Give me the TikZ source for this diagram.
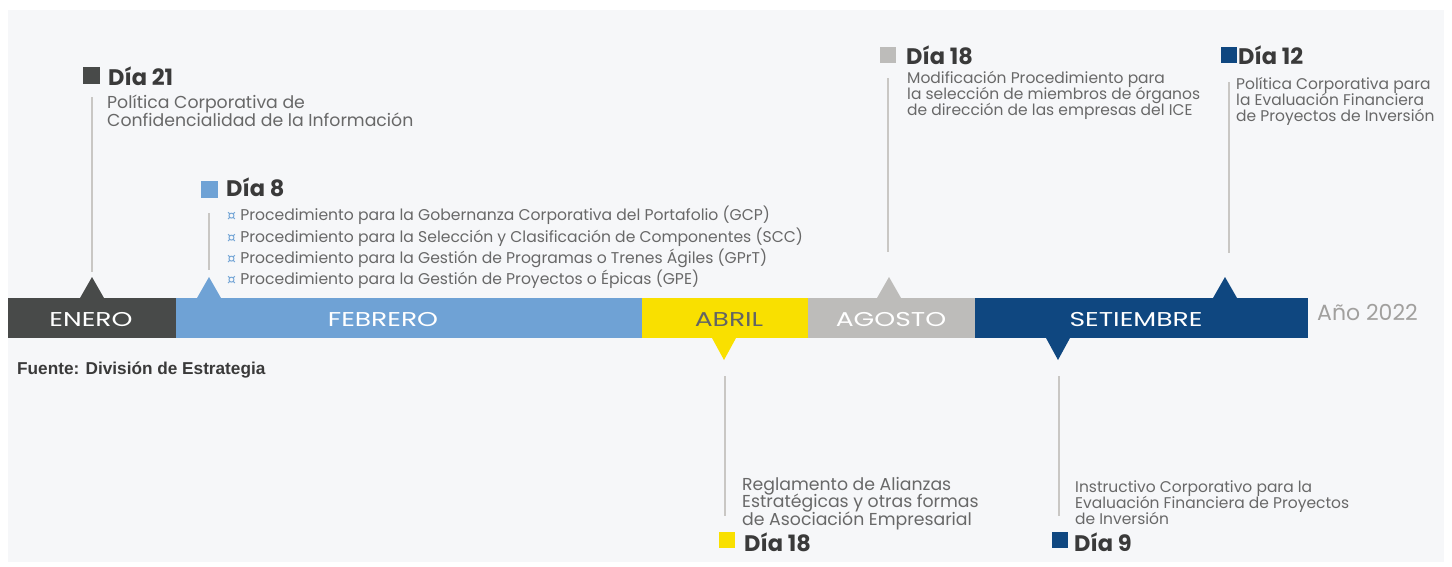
\documentclass[tikz,border=0pt]{standalone}
\usepackage{fontspec}
\setmainfont{Poppins}
\newfontfamily\widef[FakeStretch=1.33]{Poppins}
\newfontfamily\arialf{Liberation Sans}
\newfontfamily\dejaf{DejaVu Sans}
\definecolor{bgc}{HTML}{F6F7F9}
\definecolor{c1}{HTML}{484A49}
\definecolor{c2}{HTML}{6FA2D5}
\definecolor{c3}{HTML}{F9E000}
\definecolor{c4}{HTML}{BDBCBA}
\definecolor{c5}{HTML}{0F4780}
\definecolor{linec}{HTML}{C9C7C4}
\definecolor{txt}{HTML}{686868}
\definecolor{head}{HTML}{3A3A3A}
\newcommand{\bulsym}{{\dejaf\color{c2}\fontsize{14}{14}\selectfont ¤}}
\tikzset{
  mlab/.style={font=\widef\fontsize{20}{20}\selectfont, text=white},
  vline/.style={draw=linec, line width=1.6pt},
  head/.style={anchor=base west, inner sep=0pt, font=\fontsize{22.5}{22.5}\selectfont\bfseries, text=head},
  desc/.style={anchor=base west, inner sep=0pt, font=\fontsize{17.3}{17.3}\selectfont, text=txt},
  descs/.style={anchor=base west, inner sep=0pt, font=\fontsize{15.5}{15.5}\selectfont, text=txt},
  bul/.style={anchor=base west, inner sep=0pt, font=\fontsize{15.6}{15.6}\selectfont, text=txt},
  sq/.style={inner sep=0pt, minimum size=16pt}
}
\begin{document}
\begin{tikzpicture}[x=1pt,y=-1pt]
\useasboundingbox (0,0) rectangle (1452,566);
\fill[white] (0,0) rectangle (1452,566);
\fill[bgc] (8,10) rectangle (1444,562);
% bar
\fill[c1] (8,298) rectangle (176,338);
\fill[c2] (176,298) rectangle (642,338);
\fill[c3] (642,298) rectangle (808,338);
\fill[c4] (808,298) rectangle (975,338);
\fill[c5] (975,298) rectangle (1308,338);
% triangles
\fill[c1] (80,298) -- (92,277) -- (104,298) -- cycle;
\fill[c2] (197,298) -- (209,277) -- (221,298) -- cycle;
\fill[c4] (877,298) -- (889,277) -- (901,298) -- cycle;
\fill[c5] (1213,298) -- (1225,277) -- (1237,298) -- cycle;
\fill[c3] (712,338) -- (724,360) -- (736,338) -- cycle;
\fill[c5] (1046,338) -- (1058,360) -- (1070,338) -- cycle;
% month labels
\node[mlab] (ene) at (91,320) {ENERO};
\node[mlab] (feb) at (383,320) {FEBRERO};
\node[mlab, text=c1!85] (abr) at (729,320) {ABRIL};
\node[mlab] (ago) at (891,320) {AGOSTO};
\node[mlab] (set) at (1136,320) {SETIEMBRE};
\node[font=\fontsize{22}{22}\selectfont, text=c4!85!black, anchor=west, inner sep=0pt] (anio) at (1317,312) {Año 2022};
% vertical lines
\coordinate (l1a) at (92,97); \coordinate (l1b) at (92,272);
\coordinate (l2a) at (209,213); \coordinate (l2b) at (209,270);
\coordinate (l3a) at (888,78); \coordinate (l3b) at (888,252);
\coordinate (l4a) at (1229,82); \coordinate (l4b) at (1229,253);
\coordinate (l5a) at (725,376); \coordinate (l5b) at (725,516);
\coordinate (l6a) at (1059,376); \coordinate (l6b) at (1059,516);
\draw[vline] (l1a) -- (l1b);
\draw[vline] (l2a) -- (l2b);
\draw[vline] (l3a) -- (l3b);
\draw[vline] (l4a) -- (l4b);
\draw[vline] (l5a) -- (l5b);
\draw[vline] (l6a) -- (l6b);
% Dia 21
\node[sq, fill=c1, minimum size=17pt] (s21) at (91.5,75.5) {};
\node[head] (h21) at (108,85) {Día 21};
\node[desc] (d21a) at (107,108) {Política Corporativa de};
\node[desc] (d21b) at (107,126) {Confidencialidad de la Información};
% Dia 8
\node[sq, fill=c2, minimum size=17pt] (s8) at (209.5,189.5) {};
\node[head] (h8) at (226,196) {Día 8};
\node[bul] (b1) at (227,220) {\bulsym\ Procedimiento para la Gobernanza Corporativa del Portafolio (GCP)};
\node[bul] (b2) at (227,242) {\bulsym\ Procedimiento para la Selección y Clasificación de Componentes (SCC)};
\node[bul] (b3) at (227,263) {\bulsym\ Procedimiento para la Gestión de Programas o Trenes Ágiles (GPrT)};
\node[bul] (b4) at (227,284) {\bulsym\ Procedimiento para la Gestión de Proyectos o Épicas (GPE)};
% Dia 18 agosto
\node[sq, fill=c4] (s18a) at (888,55) {};
\node[head] (h18a) at (906,64) {Día 18};
\node[descs] (da1) at (907,83) {Modificación Procedimiento para};
\node[descs] (da2) at (907,99) {la selección de miembros de órganos};
\node[descs] (da3) at (907,115) {de dirección de las empresas del ICE};
% Dia 12
\node[sq, fill=c5] (s12) at (1228.5,55) {};
\node[head] (h12) at (1238,64) {Día 12};
\node[descs] (dd1) at (1236,89) {Política Corporativa para};
\node[descs] (dd2) at (1236,105) {la Evaluación Financiera};
\node[descs] (dd3) at (1236,121) {de Proyectos de Inversión};
% Dia 18 abril
\node[desc] (db1) at (742,490) {Reglamento de Alianzas};
\node[desc] (db2) at (742,507) {Estratégicas y otras formas};
\node[desc] (db3) at (742,525) {de Asociación Empresarial};
\node[sq, fill=c3] (s18b) at (727,540) {};
\node[head] (h18b) at (744,551) {Día 18};
% Dia 9
\node[descs] (dc1) at (1075,492) {Instructivo Corporativo para la};
\node[descs] (dc2) at (1075,508) {Evaluación Financiera de Proyectos};
\node[descs] (dc3) at (1075,524) {de Inversión};
\node[sq, fill=c5] (s9) at (1060,540) {};
\node[head] (h9) at (1074,551) {Día 9};
% source
\node[anchor=base west, inner sep=0pt, font=\arialf\bfseries\fontsize{17.2}{17.2}\selectfont, text=head] (src) at (17,374) {Fuente: División de Estrategia};
\end{tikzpicture}
\end{document}
